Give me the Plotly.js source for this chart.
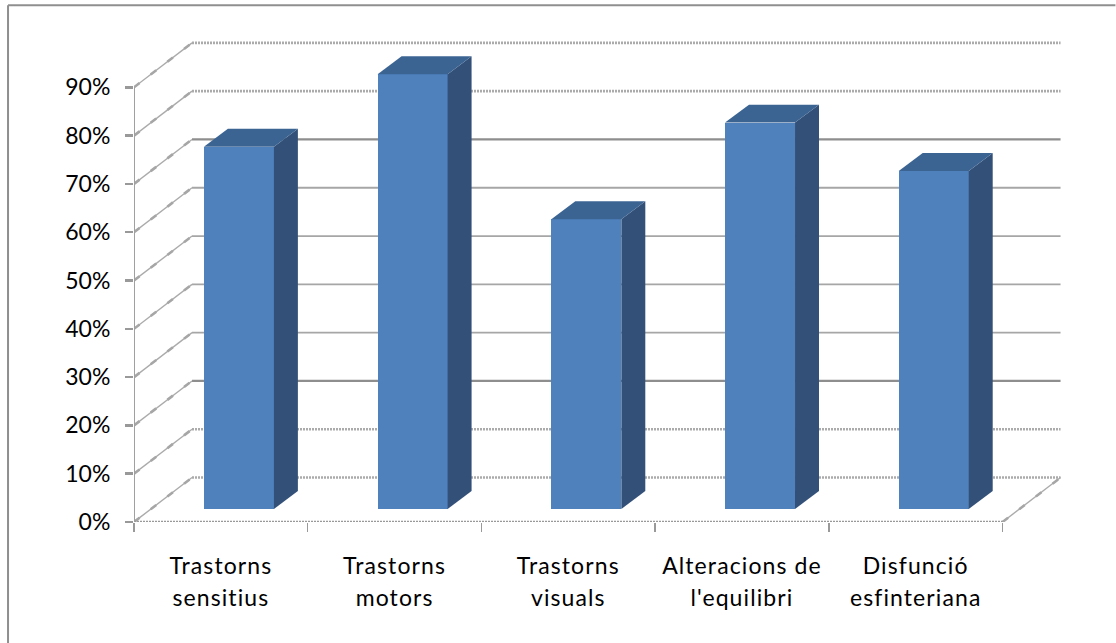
<!DOCTYPE html>
<html><head><meta charset="utf-8">
<script src="https://cdn.plot.ly/plotly-3.0.1.min.js"></script>
<style>html,body{margin:0;padding:0;background:#fff}</style>
</head><body><div id="chart" style="width:1116px;height:643px"></div>
<script>
const categories = ["Trastorns sensitius","Trastorns motors","Trastorns visuals","Alteracions de l'equilibri","Disfunció esfinteriana"];
const line1 = ["Trastorns","Trastorns","Trastorns","Alteracions de","Disfunció"];
const line2 = ["sensitius","motors","visuals","l'equilibri","esfinteriana"];
const values = [75,90,60,80,70];
const levels = [0,10,20,30,40,50,60,70,80,90];
const wiggly = [0,10,80,90];
const darker = [20,70];

const wallDx=0.334, wallDy=9.2;
const barShift=0.104, barW=0.403, barBase=2.69, sideDx=0.138, sideDy=3.72;
const n=categories.length;
const xs=values.map((v,i)=>i+0.5+barShift);
const lineWiggle={color:'#ababab',width:2.6,dash:'2px,1px'};
const lineDiag={color:'#ababab',width:1.4};
const lineBead={color:'#a6a6a6',width:2.6,dash:'7px,14px'};

const shapes=[];
function diag(x,v){
  shapes.push({type:'line',layer:'below',xref:'x',yref:'y',x0:x,y0:v,x1:x+wallDx,y1:v+wallDy,line:lineDiag});
  shapes.push({type:'line',layer:'below',xref:'x',yref:'y',x0:x,y0:v,x1:x+wallDx,y1:v+wallDy,line:lineBead});
}
levels.forEach(v=>{
  diag(0,v);
  const st = wiggly.includes(v)?lineWiggle:(darker.includes(v)?{color:'#8e8e8e',width:2.2}:{color:'#a6a6a6',width:1.8});
  shapes.push({type:'line',layer:'below',xref:'x',yref:'y',x0:wallDx,y0:v+wallDy,x1:n+wallDx,y1:v+wallDy,line:st});
});
diag(n,0);
shapes.push({type:'line',layer:'below',xref:'x',yref:'y',x0:0,y0:0,x1:n,y1:0,line:{color:'#999999',width:2.6,dash:'2px,1px'}});
shapes.push({type:'line',layer:'below',xref:'x',yref:'y',x0:0,y0:0,x1:0,y1:90,line:{color:'#a0a0a0',width:2}});
shapes.push({type:'line',layer:'below',xref:'paper',yref:'paper',x0:-0.1343,y0:-0.2504,x1:-0.1343,y1:1.0697,line:{color:'#8f8f8f',width:2}});
shapes.push({type:'line',layer:'below',xref:'paper',yref:'paper',x0:-0.1343,y0:1.0697,x1:1.0463,y1:1.0697,line:{color:'#8f8f8f',width:2}});

const front={type:'bar',x:xs,y:values,base:values.map(()=>barBase),width:barW,marker:{color:'#4f81bd',line:{width:0}},hoverinfo:'skip',showlegend:false};
const sides=values.map((v,i)=>{const r=xs[i]+barW/2,t=v+barBase;return{type:'scatter',mode:'lines',x:[r,r+sideDx,r+sideDx,r,r],y:[t,t+sideDy,barBase+sideDy,barBase,t],fill:'toself',fillcolor:'#335078',line:{width:0,color:'#335078'},hoverinfo:'skip',showlegend:false};});
const tops=values.map((v,i)=>{const l=xs[i]-barW/2,r=xs[i]+barW/2,t=v+barBase;return{type:'scatter',mode:'lines',x:[l,r,r+sideDx,l+sideDx,l],y:[t,t,t+sideDy,t+sideDy,t],fill:'toself',fillcolor:'#3b6493',line:{width:0,color:'#3b6493'},hoverinfo:'skip',showlegend:false};});

const spanStyle='font-size:23px;letter-spacing:1.1px';
const tickText=line1.map((a,i)=>`<span style="${spanStyle}">${a}</span><br><span style="${spanStyle}">${line2[i]}</span>`);

Plotly.newPlot('chart',[front,...sides,...tops],{
  width:1116,height:643,
  margin:{l:134,r:43.5,t:38.7,b:121},
  paper_bgcolor:'#ffffff',plot_bgcolor:'rgba(0,0,0,0)',
  font:{family:'Lato, sans-serif',color:'#000000',size:20},
  showlegend:false,
  bargap:0,
  xaxis:{type:'linear',range:[0,5.4],showgrid:false,zeroline:false,showline:false,
    tickmode:'array',tickvals:categories.map((c,i)=>i+0.5),ticktext:tickText,ticks:'',ticklen:0,
    tickfont:{family:'Lato, sans-serif',size:24.6,color:'#000'},ticklabelstandoff:26,
    minor:{tickmode:'array',tickvals:[0,1,2,3,4,5],ticks:'outside',ticklen:9,tickcolor:'#999999',tickwidth:1.5,showgrid:false},
    fixedrange:true},
  yaxis:{range:[0,100],showgrid:false,zeroline:false,showline:false,
    tickmode:'array',tickvals:levels,ticktext:levels.map(v=>v+'%'),ticks:'outside',ticklen:8,tickwidth:2.5,tickcolor:'#999999',
    ticklabelstandoff:10,
    tickfont:{family:'Lato, sans-serif',size:23,color:'#000'},fixedrange:true},
  shapes:shapes
},{displayModeBar:false,staticPlot:true});
</script></body></html>
